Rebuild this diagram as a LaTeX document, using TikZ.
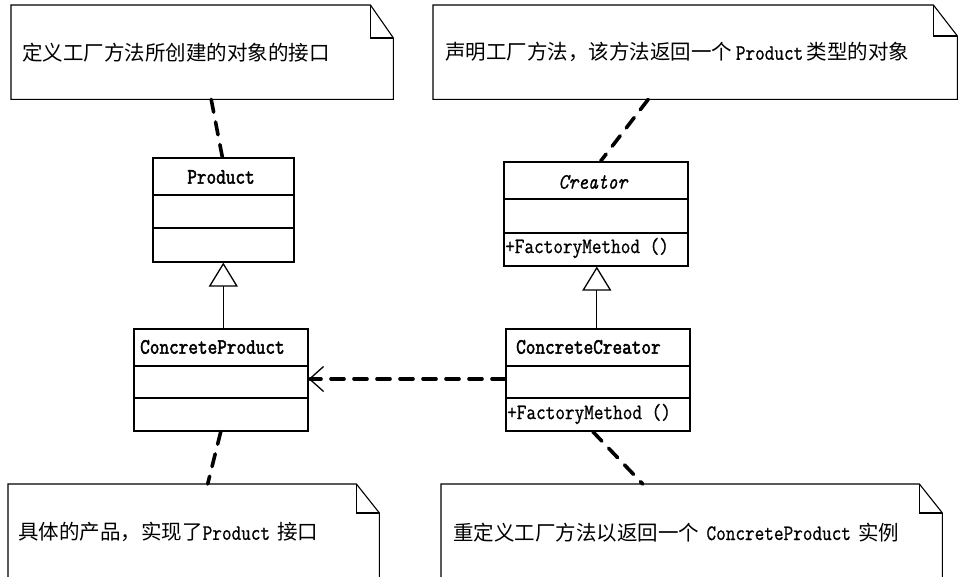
\documentclass[tikz,border=0pt]{standalone}
\usepackage{fontspec}
\setmainfont{Latin Modern Mono}[FakeStretch=0.85]
\newfontfamily\latbold{Latin Modern Mono}[FakeStretch=0.85, FakeBold=2.2]
\newfontfamily\latmid{Latin Modern Mono}[FakeStretch=0.85, FakeBold=0.8]
\newfontfamily\cjk{Noto Sans CJK SC}
\usetikzlibrary{arrows.meta,calc}
\begin{document}
\begin{tikzpicture}[x=1pt,y=-1pt,
  cls/.style={draw, line width=1.6pt, anchor=north west, inner sep=0pt},
  notebox/.style={anchor=north west, inner ysep=0pt, align=left,
    font=\fontsize{22}{24}\selectfont\latmid},
  noteline/.style={draw, line width=1.1pt},
  lbl/.style={inner sep=0pt, font=\fontsize{22}{24}\selectfont\latmid},
  namelbl/.style={inner sep=0pt, font=\fontsize{22}{24}\selectfont\latbold},
  dep/.style={line width=3.6pt, dash pattern=on 13pt off 10pt, line cap=round},
  inherit/.style={line width=1.3pt, -{Triangle[open, length=24pt, width=29pt, line width=1.3pt, fill=white]}},
  depend/.style={line width=3.6pt, dash pattern=on 13pt off 10pt, line cap=round,
    -{Straight Barb[length=14pt, width=25pt, line width=1.3pt]}}
]
\useasboundingbox (0,0) rectangle (961,577);
\clip (0,0) rectangle (961,577);
\fill[white] (0,0) rectangle (961,577);

\newcommand\drawnote[3]{%
  \draw[noteline] (#1.north west) -- ([xshift=-#2]#1.north east) -- ([yshift=-#3]#1.north east)
    -- (#1.south east) -- (#1.south west) -- cycle;
  \draw[noteline] ([xshift=-#2]#1.north east) |- ([yshift=-#3]#1.north east);}

% notes
\node[notebox, inner xsep=11pt, text width=360pt, minimum height=94pt] (n1) at (11,5)
  {\mbox{\fontsize{20.5}{24}\selectfont\cjk 定义工厂方法所创建的对象的接口}};
\node[notebox, inner xsep=12pt, text width=500pt, minimum height=94pt] (n2) at (433,5)
  {\mbox{{\fontsize{20.5}{24}\selectfont\cjk 声明工厂方法，该方法返回一个}\,Product\,{\fontsize{20.5}{24}\selectfont\cjk 类型的对象}}};
\node[notebox, inner xsep=10pt, text width=351pt, minimum height=96pt] (n3) at (8,484)
  {\mbox{{\fontsize{20.5}{24}\selectfont\cjk 具体的产品，实现了}Product {\fontsize{20.5}{24}\selectfont\cjk 接口}}};
\node[notebox, inner xsep=12pt, text width=477pt, minimum height=96pt] (n4) at (441,484)
  {\mbox{{\fontsize{20.5}{24}\selectfont\cjk 重定义工厂方法以返回一个} ConcreteProduct {\fontsize{20.5}{24}\selectfont\cjk 实例}}};
\drawnote{n1}{23pt}{33pt}
\drawnote{n2}{24pt}{31pt}
\drawnote{n3}{23pt}{29pt}
\drawnote{n4}{23pt}{29pt}

% classes
\node[cls, minimum width=141pt, minimum height=104pt] (product) at (152,157) {};
\draw[line width=1.6pt] ([yshift=-38pt]product.north west) -- ([yshift=-38pt]product.north east);
\draw[line width=1.6pt] ([yshift=-71pt]product.north west) -- ([yshift=-71pt]product.north east);
\node[namelbl] (productname) at (221,177) {Product};

\node[cls, minimum width=174pt, minimum height=102pt] (cproduct) at (133,328) {};
\draw[line width=1.6pt] ([yshift=-38pt]cproduct.north west) -- ([yshift=-38pt]cproduct.north east);
\draw[line width=1.6pt] ([yshift=-70pt]cproduct.north west) -- ([yshift=-70pt]cproduct.north east);
\node[namelbl, anchor=west] (cproductname) at (140,347) {ConcreteProduct};

\node[cls, minimum width=184pt, minimum height=104pt] (creator) at (503,161) {};
\draw[line width=1.6pt] ([yshift=-38pt]creator.north west) -- ([yshift=-38pt]creator.north east);
\draw[line width=1.6pt] ([yshift=-72pt]creator.north west) -- ([yshift=-72pt]creator.north east);
\node[lbl, font=\fontsize{22}{24}\selectfont\latmid\itshape] (creatorname) at (593,182) {Creator};
\node[lbl, anchor=west] (creatorop) at (505,248) {+FactoryMethod ()};

\node[cls, minimum width=184pt, minimum height=102pt] (ccreator) at (505,328) {};
\draw[line width=1.6pt] ([yshift=-38pt]ccreator.north west) -- ([yshift=-38pt]ccreator.north east);
\draw[line width=1.6pt] ([yshift=-70pt]ccreator.north west) -- ([yshift=-70pt]ccreator.north east);
\node[namelbl, anchor=west] (ccreatorname) at (516,347) {ConcreteCreator};
\node[lbl, anchor=west] (ccreatorop) at (507,414) {+FactoryMethod ()};

% inheritance
\draw[inherit] (cproduct.north -| product.south) -- (product.south);
\draw[inherit] ([xshift=1pt]creator.south |- ccreator.north) -- ([xshift=1pt]creator.south);

% dependency
\draw[depend] (ccreator.west |- 0,379) -- (cproduct.east |- 0,379);

% note links
\draw[dep] ([xshift=9pt]n1.south) -- ([xshift=-1pt]product.north);
\draw[dep] ([xshift=-47pt]n2.south) -- ([xshift=5pt]creator.north);
\draw[dep] (cproduct.south) -- ([xshift=14pt]n3.north);
\draw[dep] ([xshift=-5pt]ccreator.south) -- ([xshift=-49pt]n4.north);
\end{tikzpicture}
\end{document}
